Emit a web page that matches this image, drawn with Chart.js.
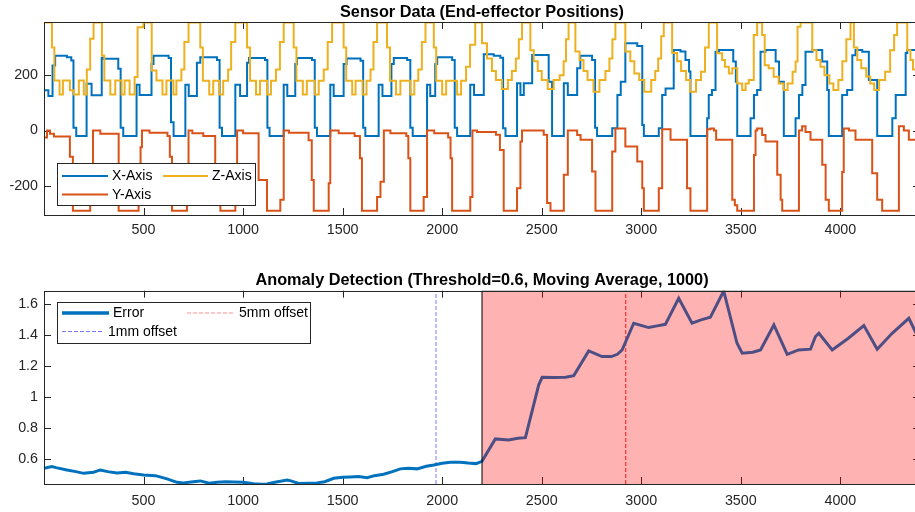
<!DOCTYPE html>
<html>
<head>
<meta charset="utf-8">
<script src="https://cdn.jsdelivr.net/npm/chart.js@4.4.1/dist/chart.umd.min.js"></script>
<style>
  html, body { margin: 0; padding: 0; background: #fff; }
  #wrap { position: relative; width: 915px; height: 512px; overflow: hidden; }
  .pane { position: absolute; left: 0; width: 920px; height: 256px; }
</style>
</head>
<body>
<div id="wrap">
  <div class="pane" style="top:0"><canvas id="cTop"></canvas></div>
  <div class="pane" style="top:256px"><canvas id="cBot"></canvas></div>
</div>
<script>
// ---- data ----
const xTicks = [500, 1000, 1500, 2000, 2500, 3000, 3500, 4000];
const topYTicks = [-200, 0, 200];
const botYTicks = [0.6, 0.8, 1, 1.2, 1.4, 1.6];

// X-Axis (blue) step breakpoints / levels
const xAxisT = [0,22,43,56,115,137,148,162,
  214,239,290,298,373,385,398,
  465,480,540,550,626,638,651,
  710,727,768,785,869,882,894,
  961,985,1020,1030,1110,1122,1133,
  1204,1222,1262,1271,1346,1360,1371,
  1438,1455,1505,1520,1590,1603,1614,
  1681,1700,1745,1757,1824,1840,1852,
  1924,1940,1965,1975,2050,2063,2075,
  2141,2160,2209,2259,2292,2306,2318,
  2376,2393,2410,2452,2535,2552,
  2611,2631,2678,2694,2753,2768,2778,
  2854,2880,2897,2920,2980,3005,3013,
  3088,3105,3122,3163,3197,3222,3240,3247,
  3331,3339,3355,3373,3390,3445,3462,3475,3482,
  3549,3566,3582,3599,3624,3675,3692,3716,
  3775,3792,3809,3825,3860,3909,3934,3942,
  4009,4034,4060,4076,4110,4143,4185,
  4261,4278,4328,4336,4400];
const xAxisV = [145,125,235,270,265,253,10,-20,
  169,127,263,259,223,10,-20,
  165,128,240,270,262,30,-20,
  165,125,245,265,255,10,-20,
  165,125,245,262,255,10,-20,
  165,125,240,262,255,10,-20,
  165,125,240,260,252,10,-20,
  165,125,240,262,255,10,-20,
  165,125,240,265,255,10,-20,
  165,128,275,270,263,8,-20,
  171,128,171,273,176,-20,
  171,128,225,270,255,10,-20,
  8,128,176,315,305,20,-20,
  8,128,152,291,285,255,213,-20,
  44,128,146,284,291,291,249,176,-20,
  44,128,146,284,291,249,176,-20,
  44,128,164,284,291,249,146,-20,
  128,146,272,291,284,182,-20,
  44,128,280,291,291];

// Y-Axis (orange)
const yAxisT = [0,15,30,50,130,145,
  232,246,283,375,
  475,485,492,530,620,632,643,
  718,726,745,800,860,886,
  961,970,1000,1078,1120,
  1187,1204,1230,1329,1345,1355,
  1430,1438,1480,1560,1587,1597,
  1673,1690,1707,1740,1820,1830,1840,
  1907,1924,1960,2030,2042,2050,
  2141,2152,2175,2270,2290,2309,
  2376,2393,2401,2510,2527,2544,
  2611,2631,2678,2695,2753,2770,
  2854,2870,2920,2980,3005,3013,
  3088,3105,3147,3230,3247,
  3331,3347,3365,3376,3457,3470,3482,
  3566,3574,3582,3607,3624,3683,3700,3708,
  3792,3808,3825,3850,3909,3926,3942,
  4009,4017,4043,4076,4160,4185,4210,
  4294,4319,4344,4400];
const yAxisV = [-25,0,-12,-22,-95,-290,
  -240,0,-12,-290,
  -180,-60,0,-8,-20,-95,-290,
  -250,0,-10,-20,-160,-290,
  -240,0,-10,-179,-290,
  -250,0,-8,-35,-179,-290,
  -190,0,-10,-20,-100,-290,
  -240,-185,0,-10,-20,-100,-290,
  -240,0,-10,-25,-100,-290,
  -240,0,-5,-15,-70,-290,
  -208,-40,0,-15,-262,-290,
  -160,0,-16,-33,-148,-290,
  -76,7,-58,-112,-208,-290,
  -208,5,-33,-208,-290,
  5,7,0,-33,-250,-270,-290,
  -88,0,7,-16,-40,-160,-250,-290,
  0,15,-5,-33,-124,-250,-290,
  -150,7,0,-33,-154,-250,-290,
  15,0,-33,-33];

// Z-Axis (yellow)
const zAxisT = [0,40,52,78,95,130,150,175,200,215,232,249,
  291,303,333,358,390,405,430,455,470,499,
  541,565,595,615,650,665,690,705,726,
  785,798,830,850,880,900,925,940,961,
  1020,1035,1065,1085,1120,1140,1165,1185,1204,
  1254,1268,1300,1320,1360,1380,1405,1425,1447,
  1505,1518,1548,1565,1600,1620,1640,1655,1673,
  1723,1738,1768,1790,1840,1860,1880,1898,1916,
  1958,1970,2000,2020,2075,2095,2120,2140,2166,
  2200,2225,2250,2270,2300,2330,2350,2370,2385,2401,
  2443,2460,2480,2500,2530,2560,2590,2610,2622,2635,
  2669,2690,2710,2730,2760,2790,2820,2840,2855,2870,
  2920,2945,2965,2990,3015,3050,3070,3085,3100,3113,
  3155,3180,3200,3225,3245,3275,3300,3320,3339,
  3381,3406,3420,3440,3457,3482,3507,3524,3540,3565,3582,
  3607,3620,3640,3665,3690,3715,3735,3760,3775,3785,3800,
  3859,3880,3900,3920,3945,3965,3990,4010,4030,4051,
  4068,4085,4105,4130,4150,4170,4195,4225,4250,4270,4285,
  4336,4352,4365,4400];
const zAxisV = [390,300,181,130,181,145,130,181,130,220,331,390,
  271,181,130,181,130,181,130,193,373,390,
  217,181,130,181,130,181,220,320,390,
  300,180,130,180,130,180,220,320,390,
  300,180,130,180,130,180,220,320,390,
  300,180,130,180,130,180,220,320,390,
  300,180,130,180,130,180,220,320,390,
  300,180,130,180,130,180,220,320,390,
  300,180,130,180,130,180,230,310,390,
  315,260,215,182,150,182,215,260,330,390,
  290,250,215,182,150,182,200,250,330,390,
  285,255,215,182,140,182,215,260,330,390,
  285,250,206,182,140,182,215,260,340,390,
  280,250,215,182,140,182,212,300,390,
  279,255,230,206,225,170,146,170,182,345,390,
  345,236,225,194,170,146,170,212,249,375,390,
  290,255,230,200,170,146,182,250,330,390,
  300,255,225,195,170,146,182,212,290,345,390,
  290,255,220,220];

// Error (moving average)
const errX = [1,40,60,115,160,199,249,283,320,366,410,450,500,560,618,668,700,750,785,830,
  869,910,953,1000,1053,1090,1120,1160,1221,1240,1280,1330,1371,1410,1455,1500,1539,1580,1623,1660,
  1706,1750,1790,1830,1874,1920,1958,2000,2041,2092,2130,2170,2200,
  2267,2334,2380,2418,2485,2502,2569,2620,2661,2736,2803,2850,2880,2904,2962,3037,3080,3121,
  3188,3255,3300,3347,3414,3481,3507,3560,3599,3666,3733,3790,3850,3875,3892,3959,4040,4118,
  4185,4260,4344,4400];
const errY = [0.538,0.549,0.542,0.527,0.516,0.505,0.512,0.527,0.516,0.508,0.512,0.503,0.495,0.490,0.469,0.447,0.443,0.451,0.456,0.441,
  0.447,0.451,0.449,0.447,0.437,0.434,0.436,0.447,0.462,0.456,0.439,0.441,0.443,0.451,0.473,0.480,0.482,0.484,0.477,0.490,
  0.499,0.516,0.534,0.538,0.534,0.551,0.559,0.570,0.577,0.577,0.572,0.568,0.583,
  0.728,0.721,0.732,0.736,1.078,1.127,1.125,1.127,1.138,1.298,1.261,1.261,1.276,1.304,1.477,1.449,1.460,1.470,
  1.639,1.477,1.499,1.516,1.686,1.347,1.283,1.289,1.304,1.466,1.276,1.304,1.309,1.391,1.412,1.304,1.380,1.462,
  1.309,1.412,1.509,1.360];

const anomalyStart = 2200;
const offset1mm = 1969;
const offset5mm = 2922;

const X_MAX = 4400;
const TOP_Y = [-305, 392];
const BOT_Y = [0.436, 1.688];

// ---- helpers ----
const FONT = '"Liberation Sans", Arial, Helvetica, sans-serif';
const AX = '#262626';
const zip = (xs, ys) => xs.map((x, i) => ({ x, y: ys[i] }));
const crisp = v => Math.round(v) + 0.5;

// inward tick marks (MATLAB look), drawn under the data
const tickMarks = {
  id: 'tickMarks',
  beforeDatasetsDraw(chart) {
    const { ctx, chartArea: a, scales: { x, y } } = chart;
    const L = 7;
    ctx.save();
    ctx.strokeStyle = AX; ctx.lineWidth = 1;
    ctx.beginPath();
    x.ticks.forEach(t => {
      const px = crisp(x.getPixelForValue(t.value));
      ctx.moveTo(px, a.bottom); ctx.lineTo(px, a.bottom - L);
      ctx.moveTo(px, a.top); ctx.lineTo(px, a.top + L);
    });
    y.ticks.forEach(t => {
      const py = crisp(y.getPixelForValue(t.value));
      ctx.moveTo(a.left, py); ctx.lineTo(a.left + L, py);
      ctx.moveTo(a.right, py); ctx.lineTo(a.right - L, py);
    });
    ctx.stroke();
    ctx.restore();
  }
};

// axes box on top of the data
const frame = {
  id: 'frame',
  afterDatasetsDraw(chart) {
    const { ctx, chartArea: a } = chart;
    const l = crisp(a.left), t = crisp(a.top), b = crisp(a.bottom), r = crisp(a.right - 1);
    ctx.save();
    ctx.strokeStyle = AX; ctx.lineWidth = 1;
    ctx.strokeRect(l, t, r - l, b - t);
    ctx.restore();
  }
};

// MATLAB style legend box inside the axes
function boxLegend(box, items) {
  return {
    id: 'boxLegend',
    afterDraw(chart) {
      const { ctx } = chart;
      ctx.save();
      ctx.fillStyle = '#fff';
      ctx.fillRect(box.x, box.y, box.w, box.h);
      ctx.strokeStyle = AX; ctx.lineWidth = 1;
      ctx.strokeRect(crisp(box.x), crisp(box.y), Math.round(box.w), Math.round(box.h));
      items.forEach(it => {
        ctx.beginPath();
        ctx.strokeStyle = it.color; ctx.lineWidth = it.width;
        ctx.setLineDash(it.dash || []);
        ctx.moveTo(it.x0, it.y); ctx.lineTo(it.x1, it.y);
        ctx.stroke();
        ctx.setLineDash([]);
        ctx.fillStyle = '#000';
        ctx.font = '14px ' + FONT;
        ctx.textBaseline = 'middle';
        ctx.textAlign = 'left';
        ctx.fillText(it.label, it.x1 + 4, it.y + 0.5);
      });
      ctx.restore();
    }
  };
}

function axes(yRange, yTicks, xHeight, xPad) {
  return {
    x: {
      type: 'linear', min: 0, max: X_MAX,
      grid: { display: false, drawTicks: false },
      border: { display: false },
      afterBuildTicks: s => { s.ticks = xTicks.map(v => ({ value: v })); },
      afterFit: s => { s.height = xHeight; },
      ticks: { autoSkip: false, maxRotation: 0, padding: xPad, color: AX,
               font: { family: FONT, size: 14.3 }, callback: v => String(v) }
    },
    y: {
      type: 'linear', min: yRange[0], max: yRange[1],
      grid: { display: false, drawTicks: false },
      border: { display: false },
      afterBuildTicks: s => { s.ticks = yTicks.map(v => ({ value: v })); },
      afterFit: s => { s.width = 44; },
      ticks: { autoSkip: false, padding: 6, color: AX,
               font: { family: FONT, size: 14.3 }, callback: v => String(v) }
    }
  };
}

function titleOpt(text, padTop) {
  return { display: true, fullSize: false, text, color: '#000',
           font: { family: FONT, size: 16.3, weight: 'bold', lineHeight: 1.2 },
           padding: { top: padTop, bottom: 0 } };
}

const line = (label, data, color, width, order, extra) => Object.assign({
  label, data, borderColor: color, backgroundColor: color, borderWidth: width,
  pointRadius: 0, tension: 0, fill: false, order
}, extra || {});

// ---- top: sensor data ----
new Chart(document.getElementById('cTop'), {
  type: 'line',
  data: {
    datasets: [
      line('Z-Axis', zip(zAxisT, zAxisV), '#EDB120', 2, 0, { stepped: 'before' }),
      line('Y-Axis', zip(yAxisT, yAxisV), '#D95319', 2, 1, { stepped: 'before' }),
      line('X-Axis', zip(xAxisT, xAxisV), '#0072BD', 2, 2, { stepped: 'before' })
    ]
  },
  options: {
    responsive: true, maintainAspectRatio: false, animation: false,
    layout: { padding: 0 },
    scales: axes(TOP_Y, topYTicks, 41, 6),
    plugins: {
      legend: { display: false },
      tooltip: { enabled: false },
      title: titleOpt('Sensor Data (End-effector Positions)', 2.4)
    }
  },
  plugins: [tickMarks, frame, boxLegend({ x: 57, y: 163, w: 198, h: 42 }, [
    { label: 'X-Axis', color: '#0072BD', width: 2, x0: 62, x1: 108, y: 176 },
    { label: 'Z-Axis', color: '#EDB120', width: 2, x0: 163, x1: 208, y: 176 },
    { label: 'Y-Axis', color: '#D95319', width: 2, x0: 62, x1: 108, y: 194.5 }
  ])]
});

// ---- bottom: anomaly detection ----
const shade = [
  { x: anomalyStart, y: BOT_Y[0] }, { x: anomalyStart, y: BOT_Y[1] },
  { x: X_MAX, y: BOT_Y[1] }, { x: X_MAX, y: BOT_Y[0] }
];
new Chart(document.getElementById('cBot'), {
  type: 'line',
  data: {
    datasets: [
      line('Anomaly', shade, '#000', 1, 0, { fill: 'start', backgroundColor: 'rgba(255,0,0,0.3)' }),
      line('Error', zip(errX, errY), '#0072BD', 3, 1),
      line('1mm offset', [{ x: offset1mm, y: BOT_Y[0] }, { x: offset1mm, y: BOT_Y[1] }], '#7878FF', 1, 2, { borderDash: [4, 2] }),
      line('5mm offset', [{ x: offset5mm, y: BOT_Y[0] }, { x: offset5mm, y: BOT_Y[1] }], '#FF2020', 1, 2, { borderDash: [4, 2] })
    ]
  },
  options: {
    responsive: true, maintainAspectRatio: false, animation: false,
    layout: { padding: 0 },
    scales: axes(BOT_Y, botYTicks, 28, 8),
    plugins: {
      legend: { display: false },
      tooltip: { enabled: false },
      title: titleOpt('Anomaly Detection (Threshold=0.6, Moving Average, 1000)', 15.1)
    }
  },
  plugins: [tickMarks, frame, boxLegend({ x: 57, y: 45.5, w: 253, h: 40.5 }, [
    { label: 'Error', color: '#0072BD', width: 3.5, x0: 62, x1: 109, y: 57 },
    { label: '5mm offset', color: '#FF9090', width: 1, x0: 187, x1: 235, y: 57, dash: [4, 2] },
    { label: '1mm offset', color: '#7878FF', width: 1, x0: 62, x1: 104, y: 75.5, dash: [4, 2] }
  ])]
});
</script>
</body>
</html>
